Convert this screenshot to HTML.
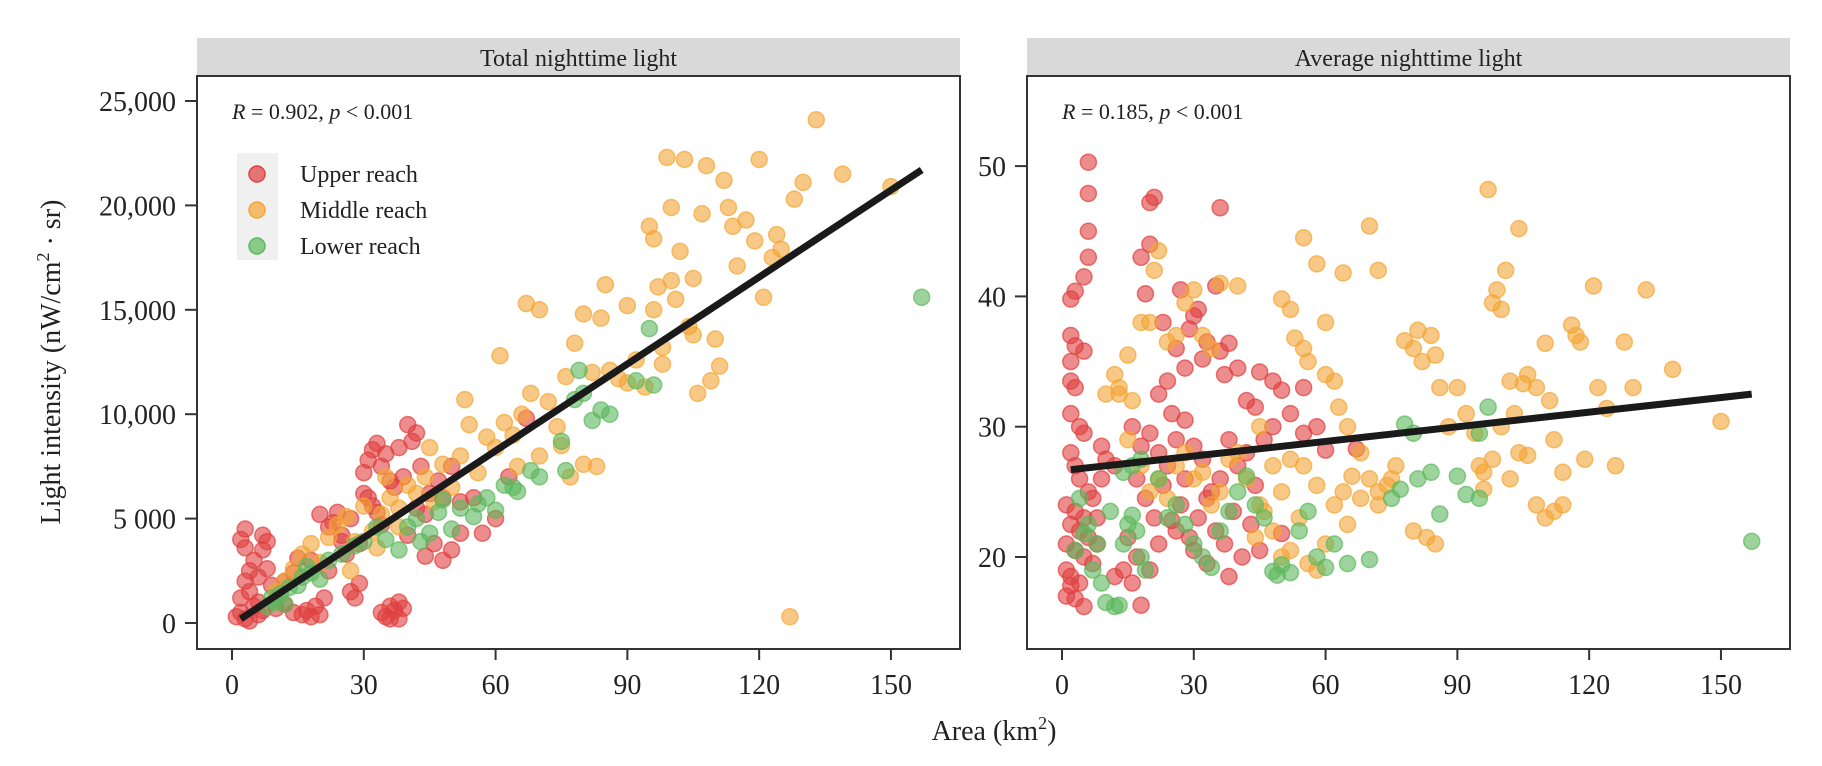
<!DOCTYPE html>
<html><head><meta charset="utf-8"><style>
body{margin:0;background:#fff}
svg{display:block;font-family:"Liberation Serif",serif}
</style></head><body>
<svg id="c" width="1822" height="766" xmlns="http://www.w3.org/2000/svg"></svg>
<script>
const xTicks=[0,30,60,90,120,150];
const yTicksL=[0,5000,10000,15000,20000,25000];
const yTickLabelsL=["0","5 000","10,000","15,000","20,000","25,000"];
const yTicksR=[20,30,40,50];
const totalUpper=[[1,300],[2,500],[2,1200],[3,2000],[3,3600],[3,4500],[2,4000],[4,2500],[4,1500],[5,800],[5,3000],[6,2200],[6,1000],[7,3500],[7,4200],[8,3900],[8,2600],[9,1800],[7,600],[3,200],[4,100],[6,400],[10,700],[12,900],[14,500],[16,400],[18,300],[20,400],[17,600],[19,800],[21,1200],[22,2500],[23,4800],[24,5300],[25,3900],[26,3300],[27,1500],[28,1200],[29,1900],[30,7200],[31,7800],[32,8300],[33,8600],[34,7500],[35,8100],[36,6800],[37,6500],[38,8400],[39,7000],[40,9500],[41,8700],[42,9100],[30,6200],[32,5600],[34,4700],[35,300],[36,800],[37,600],[38,1000],[36,200],[34,500],[38,200],[39,700],[44,3200],[46,3800],[48,3000],[50,3500],[52,4300],[45,6200],[47,6800],[50,7500],[52,5800],[55,6000],[57,4300],[44,5200],[42,5500],[60,5000],[63,7000],[67,9800],[25,4200],[27,5000],[29,3800],[31,6000],[33,5300],[20,5200],[22,4600],[15,3100],[18,3000],[12,2000],[14,2400],[40,4200],[43,7500],[48,6000]];
const totalMiddle=[[10,1500],[12,2000],[14,2600],[16,3300],[18,3800],[20,2900],[22,4100],[24,4700],[26,5100],[28,3900],[30,5600],[32,4400],[33,3600],[34,5200],[36,6000],[38,5500],[40,6600],[42,6200],[44,7000],[46,5800],[48,7600],[50,6500],[52,8000],[53,10700],[54,9500],[56,7200],[58,8900],[60,8400],[61,12800],[62,9600],[64,9000],[66,10000],[67,15300],[68,11000],[70,15000],[72,10600],[74,9400],[76,11800],[77,7000],[78,13400],[80,7600],[80,14800],[82,12000],[83,7500],[84,14600],[85,16200],[86,12100],[88,11700],[90,15200],[92,12600],[94,11300],[95,19000],[96,18400],[97,16100],[98,12400],[99,22300],[100,19900],[101,15500],[102,17800],[103,22200],[104,14200],[105,16500],[106,11000],[107,19600],[108,21900],[109,11600],[110,13600],[111,12300],[112,21200],[113,19900],[114,19000],[115,17100],[117,19300],[119,18300],[120,22200],[121,15600],[123,17500],[124,18600],[125,17900],[127,300],[128,20300],[130,21100],[133,24100],[139,21500],[150,20900],[100,16400],[98,13200],[96,15000],[105,13800],[90,11500],[75,8500],[70,8000],[65,7500],[45,8400],[38,4600],[27,2500],[35,7000]];
const totalLower=[[8,800],[9,1200],[10,1000],[11,1400],[12,900],[13,1700],[15,1800],[16,2200],[17,2700],[18,2400],[20,2100],[22,3000],[30,3900],[35,4000],[38,3500],[40,4600],[42,5000],[45,4300],[47,5300],[50,4500],[52,5500],[55,5100],[58,6000],[60,5400],[62,6600],[65,6300],[68,7300],[70,7000],[75,8700],[76,7300],[78,10700],[79,12100],[80,11000],[82,9700],[84,10200],[86,10000],[92,11600],[95,14100],[96,11400],[157,15600],[25,3300],[28,3700],[33,4600],[43,3900],[48,5900],[56,5700],[64,6500]];
const avgUpper=[[6,50.3],[6,47.9],[6,45],[6,43],[5,41.5],[2,39.8],[3,40.4],[2,37],[3,36.2],[5,35.8],[2,35],[2,33.5],[3,33],[2,31],[4,30],[5,29.5],[2,28],[3,27],[4,26],[6,25],[1,24],[3,23.5],[5,23],[2,22.5],[4,22],[6,21.5],[1,21],[3,20.5],[5,20],[7,19.5],[1,19],[2,18.5],[4,18],[1,17],[2,17.8],[3,16.8],[5,16.2],[7,24.5],[8,23],[8,21],[9,26],[9,28.5],[10,27.5],[12,27],[20,47.2],[21,47.6],[18,43],[20,44],[36,46.8],[19,40.2],[27,40.5],[30,38.5],[23,38],[26,36],[29,37.5],[31,39],[35,40.8],[33,36.5],[36,35.8],[38,36.4],[37,34],[40,34.5],[42,32],[45,34.2],[48,33.5],[50,32.8],[44,31.5],[24,33.5],[22,32.5],[25,31],[28,30.5],[16,30],[18,28.5],[20,29.5],[22,28],[24,27],[26,29],[28,26],[30,28.5],[32,27.5],[34,25],[36,26],[38,29],[40,27],[42,28],[44,25.5],[46,29],[48,30],[52,31],[55,29.5],[58,30],[60,28.2],[17,26],[19,24.5],[21,23],[23,25.5],[25,22.8],[27,24],[29,21.5],[31,23],[33,24.5],[35,22],[37,21],[39,23.5],[41,20],[43,22.5],[15,21.5],[17,20],[20,19],[22,21],[26,22],[30,20.5],[33,19.5],[12,18.5],[14,19],[16,18],[18,16.3],[38,18.5],[45,20.5],[50,21.8],[67,28.3],[55,33],[28,34.5],[32,35.2]];
const avgMiddle=[[10,32.5],[12,34],[13,33],[15,35.5],[16,32],[18,38],[20,38],[21,42],[22,43.5],[24,36.5],[26,37],[28,39.5],[30,40.5],[32,37],[34,36],[36,41],[40,40.8],[50,39.8],[52,39],[53,36.8],[55,44.5],[58,42.5],[60,38],[64,41.8],[70,45.4],[72,42],[55,36],[56,35],[60,34],[62,33.5],[63,31.5],[65,30],[68,28],[70,26],[72,25],[74,25.5],[76,27],[78,36.6],[80,36],[81,37.4],[82,35],[84,37],[85,35.5],[86,33],[88,30],[90,33],[92,31],[94,29.5],[96,25.2],[97,48.2],[98,39.5],[99,40.5],[100,39],[101,42],[102,33.5],[103,31],[104,45.2],[105,33.3],[106,34],[108,33],[110,36.4],[111,32],[112,29],[114,26.5],[116,37.8],[117,37],[118,36.5],[119,27.5],[121,40.8],[122,33],[124,31.4],[126,27],[128,36.5],[130,33],[133,40.5],[139,34.4],[150,30.4],[100,30],[98,27.5],[96,26.5],[95,27],[102,26],[104,28],[106,27.8],[108,24],[110,23],[112,23.5],[114,24],[80,22],[83,21.5],[85,21],[75,26],[72,24],[65,22.5],[60,21],[58,19],[56,19.5],[52,20.5],[50,20],[48,22],[45,24],[42,26],[40,28],[38,27.5],[36,25],[34,24],[32,26.5],[30,26],[28,28],[26,27],[24,24.5],[22,26],[20,25],[18,27],[15,29],[13,32.5],[45,30],[48,27],[52,27.5],[55,27],[58,25.5],[62,24],[64,25],[66,26.2],[68,24.5],[50,25],[54,23],[46,23.5],[44,21.5]];
const avgLower=[[4,24.5],[6,22.5],[8,21],[7,19],[9,18],[10,16.5],[12,16.2],[13,16.3],[14,21],[15,22.5],[16,23.2],[17,22],[18,20],[19,19],[14,26.5],[16,27],[18,27.5],[22,26],[24,23],[26,24],[28,22.5],[30,21],[32,20],[34,19.2],[36,22],[38,23.5],[40,25],[42,26.2],[44,24],[46,23],[48,18.9],[49,18.6],[50,19.4],[52,18.8],[54,22],[56,23.5],[58,20],[60,19.2],[62,21],[65,19.5],[70,19.8],[75,24.5],[77,25.2],[78,30.2],[80,29.5],[81,26],[84,26.5],[86,23.3],[90,26.2],[92,24.8],[95,24.5],[95,29.5],[97,31.5],[157,21.2],[3,20.5],[5,21.8],[11,23.5]];
const fitL=[[2,200],[157,21700]];
const fitR=[[2,26.7],[157,32.5]];

const NS="http://www.w3.org/2000/svg";
const svg=document.getElementById('c');
function el(tag,attrs,parent,text){const e=document.createElementNS(NS,tag);for(const k in attrs)e.setAttribute(k,attrs[k]);if(text!==undefined)e.textContent=text;(parent||svg).appendChild(e);return e;}
const COL={u:"#e0403f",m:"#f4a535",l:"#5cb85c"};

function panel(cfg){
  const g=el('g',{});
  
  
  const sx=v=>cfg.x0+v*4.393;
  const sy=v=>cfg.y0-(v-cfg.yb)*cfg.ky;
  const strip=el('rect',{x:cfg.L,y:38,width:cfg.R-cfg.L,height:38,fill:'#d9d9d9'},g);
  
  
  const st=el('text',{x:(cfg.L+cfg.R)/2,y:66,'text-anchor':'middle','font-size':24,fill:'#222'},g,cfg.title);
  
  
  const pts=el('g',{},g);
  
  
  [[cfg.u,COL.u,'upper-reach-point'],[cfg.m,COL.m,'middle-reach-point'],[cfg.l,COL.l,'lower-reach-point']].forEach(([arr,c,n])=>{
    arr.forEach(p=>{
      const ci=el('circle',{cx:sx(p[0]),cy:sy(p[1]),r:8,fill:c,'fill-opacity':0.6,stroke:c,'stroke-opacity':0.7,'stroke-width':1.5},pts);
      
      
    });
  });
  const ln=el('line',{x1:sx(cfg.fit[0][0]),y1:sy(cfg.fit[0][1]),x2:sx(cfg.fit[1][0]),y2:sy(cfg.fit[1][1]),stroke:'#1a1a1a','stroke-width':7},g);
  
  
  const box=el('rect',{x:cfg.L,y:76,width:cfg.R-cfg.L,height:573,fill:'none',stroke:'#333','stroke-width':2},g);
  
  
  xTicks.forEach(t=>{
    el('line',{x1:sx(t),x2:sx(t),y1:649,y2:660,stroke:'#333','stroke-width':2},g);
    const tx=el('text',{x:sx(t),y:694,'text-anchor':'middle','font-size':28,fill:'#222'},g,String(t));
    
    
  });
  cfg.yt.forEach((t,i)=>{
    el('line',{x1:cfg.L-12,x2:cfg.L,y1:sy(t),y2:sy(t),stroke:'#333','stroke-width':2},g);
    const ty=el('text',{x:cfg.L-21,y:sy(t)+10,'text-anchor':'end','font-size':28,fill:'#222'},g,cfg.ytl[i]);
    
    
  });
  const r=el('text',{x:cfg.L+35,y:119,'font-size':22,fill:'#222'},g);
  
  
  r.innerHTML='<tspan font-style="italic">R</tspan> = '+cfg.rv+',  <tspan font-style="italic">p</tspan> &lt; 0.001';
}
panel({name:'total-panel',title:'Total nighttime light',L:197,R:960,x0:232,y0:623,yb:0,ky:522/25000,u:totalUpper,m:totalMiddle,l:totalLower,fit:fitL,yt:yTicksL,ytl:yTickLabelsL,rv:'0.902'});
panel({name:'average-panel',title:'Average nighttime light',L:1027,R:1790,x0:1062,y0:557,yb:20,ky:13.03,u:avgUpper,m:avgMiddle,l:avgLower,fit:fitR,yt:yTicksR,ytl:yTicksR.map(String),rv:'0.185'});

// legend
const lg=el('g',{});


el('rect',{x:237,y:153,width:41,height:107,fill:'#f0f0f0'},lg);
[['Upper reach',COL.u,174],['Middle reach',COL.m,210],['Lower reach',COL.l,246]].forEach(([t,c,y])=>{
  const e=el('g',{},lg);
  
  
  el('circle',{cx:257,cy:y,r:8,fill:c,'fill-opacity':0.7,stroke:c,'stroke-width':1.5},e);
  el('text',{x:300,y:y+8,'font-size':24,fill:'#222'},e,t);
});
const xt=el('text',{x:994,y:740,'text-anchor':'middle','font-size':28,fill:'#222'});


xt.innerHTML='Area (km<tspan dy="-11" font-size="18">2</tspan><tspan dy="11">)</tspan>';
const yt=el('text',{x:0,y:0,'text-anchor':'middle','font-size':28,fill:'#222',transform:'translate(60,362) rotate(-90)'});


yt.innerHTML='Light intensity (nW/cm<tspan dy="-11" font-size="18">2</tspan><tspan dy="11"> · sr)</tspan>';
</script>
</body></html>
